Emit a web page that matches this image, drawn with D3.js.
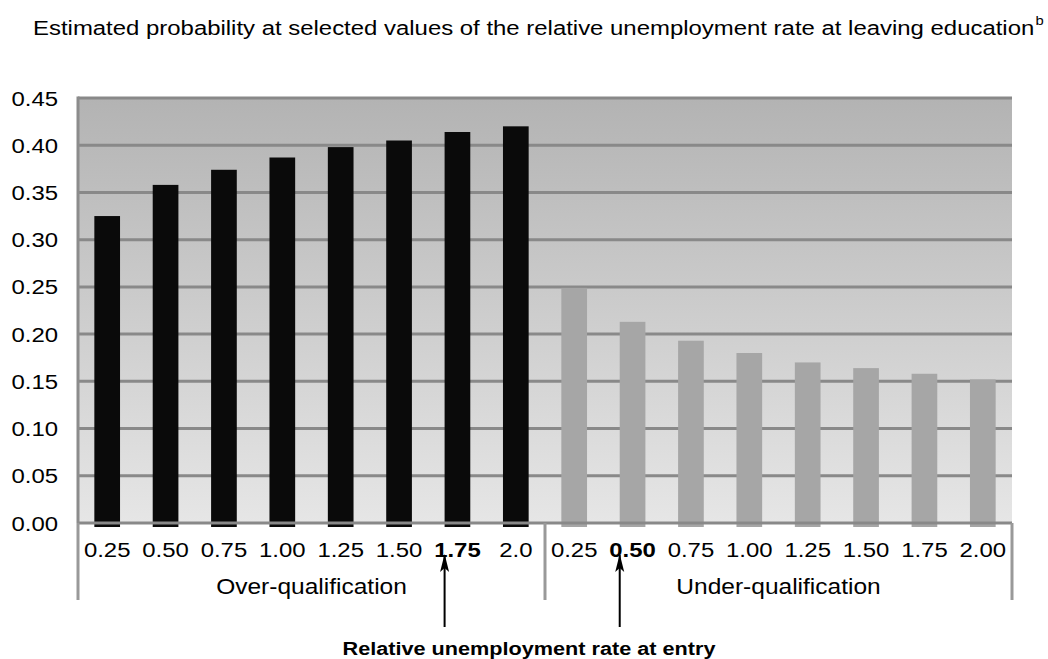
<!DOCTYPE html>
<html>
<head>
<meta charset="utf-8">
<script src="https://cdn.jsdelivr.net/npm/d3@7"></script>
<style>
  html, body { margin: 0; padding: 0; background: #fff; }
  svg { display: block; font-family: "Liberation Sans", Arial, sans-serif; }
</style>
</head>
<body>
<svg id="chart" width="1048" height="659"></svg>
<script>
// Category groups and their rate labels
const groups = ["Over-qualification", "Under-qualification"];
const overLabels = ["0.25", "0.50", "0.75", "1.00", "1.25", "1.50", "1.75", "2.0"];
const underLabels = ["0.25", "0.50", "0.75", "1.00", "1.25", "1.50", "1.75", "2.00"];

// Estimated probabilities
const overValues = [0.325, 0.358, 0.374, 0.387, 0.398, 0.405, 0.414, 0.420];
const underValues = [0.249, 0.213, 0.193, 0.180, 0.170, 0.164, 0.158, 0.152];

// Y axis ticks
const yTicks = [0, 0.05, 0.10, 0.15, 0.20, 0.25, 0.30, 0.35, 0.40, 0.45];

// Highlighted categories (group index, label index)
const highlighted = [[0, 6], [1, 1]];

const titleText = "Estimated probability at selected values of the relative unemployment rate at leaving education";
const axisTitle = "Relative unemployment rate at entry";

const svg = d3.select("#chart");
const plot = { left: 78, right: 1012, top: 98, bottom: 523 };
const sx = 1.14; // horizontal stretch of the typeface

// Place a text element at (px, py) with the horizontal stretch applied
function place(sel, px, py) {
  return sel.attr("transform", (d, i) => {
    const X = typeof px === "function" ? px(d, i) : px;
    const Y = typeof py === "function" ? py(d, i) : py;
    return `translate(${X},${Y}) scale(${sx},1)`;
  });
}

const rows = [];
overLabels.forEach((l, i) => rows.push({ group: 0, idx: i, label: l, value: overValues[i] }));
underLabels.forEach((l, i) => rows.push({ group: 1, idx: i, label: l, value: underValues[i] }));
rows.forEach((r, i) => { r.key = i; r.bold = highlighted.some(h => h[0] === r.group && h[1] === r.idx); });

const x = d3.scaleBand()
  .domain(rows.map(r => r.key))
  .range([plot.left, plot.right])
  .paddingInner(0.56)
  .paddingOuter(0.28);

const y = d3.scaleLinear().domain([0, 0.45]).range([plot.bottom, plot.top]);

// Plot background gradient
const defs = svg.append("defs");
const grad = defs.append("linearGradient")
  .attr("id", "bg").attr("x1", 0).attr("y1", 0).attr("x2", 0).attr("y2", 1);
grad.append("stop").attr("offset", "0%").attr("stop-color", "#b3b3b3");
grad.append("stop").attr("offset", "100%").attr("stop-color", "#e6e6e6");

svg.append("rect")
  .attr("x", plot.left).attr("y", plot.top)
  .attr("width", plot.right - plot.left).attr("height", plot.bottom - plot.top)
  .attr("fill", "url(#bg)");

// Horizontal gridlines
svg.append("g").selectAll("line")
  .data(yTicks.filter(t => t > 0))
  .join("line")
  .attr("x1", plot.left).attr("x2", plot.right)
  .attr("y1", d => y(d)).attr("y2", d => y(d))
  .attr("stroke", "#898989").attr("stroke-width", 3);

// Bars
const stub = 4;
svg.append("g").selectAll("rect")
  .data(rows)
  .join("rect")
  .attr("x", d => x(d.key))
  .attr("width", x.bandwidth())
  .attr("y", d => y(d.value))
  .attr("height", d => y(0) - y(d.value) + stub)
  .attr("fill", d => d.group === 0 ? "#0a0a0a" : "#a6a6a6");

// Zero line
svg.append("line")
  .attr("x1", plot.left).attr("x2", plot.right)
  .attr("y1", y(0)).attr("y2", y(0))
  .attr("stroke", "#898989").attr("stroke-width", 3);

// Left axis line
svg.append("line")
  .attr("x1", plot.left).attr("x2", plot.left)
  .attr("y1", plot.top - 1.5).attr("y2", plot.bottom)
  .attr("stroke", "#8c8c8c").attr("stroke-width", 3);

// Y tick labels
place(svg.append("g").selectAll("text")
  .data(yTicks)
  .join("text"), 58, d => y(d))
  .attr("dy", "0.36em")
  .attr("text-anchor", "end")
  .attr("font-size", 21)
  .attr("fill", "#000")
  .text(d => d3.format(".2f")(d));

// Group separators below the axis
const sepBottom = 600;
const groupEdges = [plot.left, x(8) - x.step() * x.paddingInner() / 2, plot.right];
svg.append("g").selectAll("line")
  .data(groupEdges)
  .join("line")
  .attr("x1", d => d).attr("x2", d => d)
  .attr("y1", plot.bottom).attr("y2", sepBottom)
  .attr("stroke", "#999").attr("stroke-width", 3);

// X tick labels
place(svg.append("g").selectAll("text")
  .data(rows)
  .join("text"), d => x(d.key) + x.bandwidth() / 2, 557)
  .attr("text-anchor", "middle")
  .attr("font-size", 21)
  .attr("font-weight", d => d.bold ? "bold" : "normal")
  .attr("fill", "#000")
  .text(d => d.label);

// Group labels
place(svg.append("g").selectAll("text")
  .data(groups)
  .join("text"), (d, i) => (groupEdges[i] + groupEdges[i + 1]) / 2, 594)
  .attr("text-anchor", "middle")
  .attr("font-size", 21.5)
  .attr("fill", "#000")
  .text(d => d);

// Arrows pointing to the highlighted rates
defs.append("marker")
  .attr("id", "arrowhead")
  .attr("viewBox", "0 0 10 20")
  .attr("refX", 5).attr("refY", 1)
  .attr("markerWidth", 10).attr("markerHeight", 20)
  .attr("markerUnits", "userSpaceOnUse")
  .attr("orient", "0")
  .append("path")
  .attr("d", "M5,0 L9.5,18 L5,14 L0.5,18 Z")
  .attr("fill", "#000");

svg.append("g").selectAll("line")
  .data(rows.filter(r => r.bold))
  .join("line")
  .attr("x1", d => x(d.key)).attr("x2", d => x(d.key))
  .attr("y1", 627).attr("y2", 555)
  .attr("stroke", "#000").attr("stroke-width", 2)
  .attr("marker-end", "url(#arrowhead)");

// Axis title
place(svg.append("text"), 529, 655)
  .attr("text-anchor", "middle")
  .attr("font-size", 19)
  .attr("font-weight", "bold")
  .attr("fill", "#000")
  .text(axisTitle);

// Chart title with superscript note marker
const title = place(svg.append("text"), 33, 35)
  .attr("font-size", 21)
  .attr("fill", "#000")
  .text(titleText);
title.append("tspan")
  .attr("dy", -10).attr("dx", 1)
  .attr("font-size", 13)
  .text("b");
</script>
</body>
</html>
